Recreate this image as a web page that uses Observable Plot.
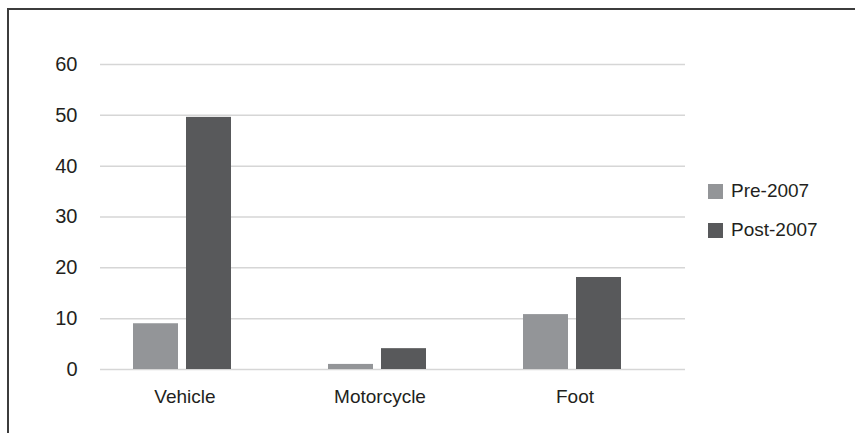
<!DOCTYPE html>
<html>
<head>
<meta charset="utf-8">
<script src="https://cdn.jsdelivr.net/npm/d3@7"></script>
<script src="https://cdn.jsdelivr.net/npm/@observablehq/plot@0.6"></script>
<style>
  html, body { margin: 0; padding: 0; background: #fff; }
  #wrap { position: relative; width: 855px; height: 433px; overflow: hidden; font-family: "Liberation Sans", Arial, sans-serif; }
  #frame { position: absolute; left: 7px; top: 8px; width: 900px; height: 500px; border-left: 2px solid #3c3c3c; border-top: 2px solid #3c3c3c; box-sizing: border-box; }
  #legend { position: absolute; left: 708px; top: 180px; font-size: 19px; color: #231f20; }
  #legend .item { display: flex; align-items: center; height: 22px; margin-bottom: 17px; }
  #legend .sw { width: 15px; height: 15px; margin-right: 8px; }
  svg text { fill: #231f20; }
</style>
</head>
<body>
<div id="wrap">
  <div id="chart"></div>
  <div id="frame"></div>
  <div id="legend"></div>
</div>
<script>
const categories = ["Vehicle", "Motorcycle", "Foot"];
const series = ["Pre-2007", "Post-2007"];
const pre2007 = [9, 1, 10.8];
const post2007 = [49.6, 4.1, 18.1];
const yTicks = [0, 10, 20, 30, 40, 50, 60];
const colors = ["#939598", "#58595b"];

const data = [];
categories.forEach((c, i) => {
  data.push({category: c, series: series[0], value: pre2007[i]});
  data.push({category: c, series: series[1], value: post2007[i]});
});

const chart = Plot.plot({
  width: 855,
  height: 433,
  marginLeft: 100,
  marginRight: 170,
  marginTop: 64,
  marginBottom: 64,
  style: {fontFamily: "'Liberation Sans', Arial, sans-serif", fontSize: "19px", background: "transparent"},
  fx: {domain: categories, paddingInner: 0, paddingOuter: 0, label: null},
  x: {domain: series, paddingInner: 0.148, paddingOuter: 0.88, align: 0.34, axis: null},
  y: {domain: [0, 60], ticks: yTicks, label: null},
  color: {domain: series, range: colors},
  marks: [
    Plot.gridY(yTicks, {stroke: "#d6d6d6", strokeOpacity: 1, strokeWidth: 1.5}),
    Plot.barY(data, {fx: "category", x: "series", y: "value", fill: "series"}),
    Plot.axisY(yTicks, {tickSize: 0, tickPadding: 23, fontSize: 20, tickFormat: d => String(d)}),
    Plot.axisFx({anchor: "bottom", tickSize: 0, tickPadding: 20, fontSize: 19, label: null, dx: -13})
  ]
});
document.getElementById("chart").appendChild(chart);

const legend = document.getElementById("legend");
series.forEach((s, i) => {
  const item = document.createElement("div");
  item.className = "item";
  const sw = document.createElement("div");
  sw.className = "sw";
  sw.style.background = colors[i];
  const t = document.createElement("span");
  t.textContent = s;
  item.appendChild(sw);
  item.appendChild(t);
  legend.appendChild(item);
});
</script>
</body>
</html>
